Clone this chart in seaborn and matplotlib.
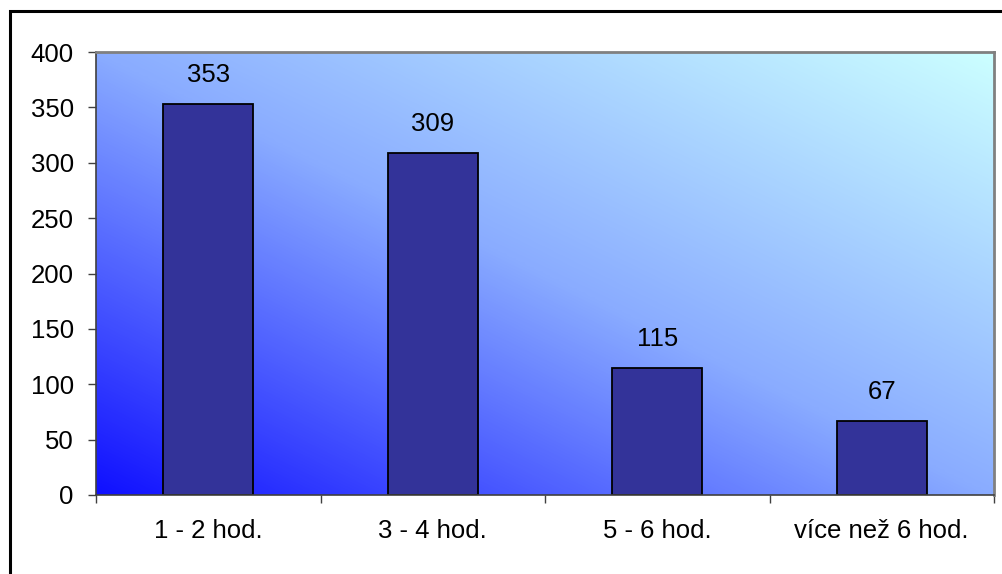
import numpy as np
import pandas as pd
import matplotlib
matplotlib.use("Agg")
import matplotlib.pyplot as plt
from matplotlib.colors import LinearSegmentedColormap
from matplotlib.patches import Rectangle
import seaborn as sns

categories = ["1 - 2 hod.", "3 - 4 hod.", "5 - 6 hod.", "více než 6 hod."]
values = [353, 309, 115, 67]
y_ticks = [0, 50, 100, 150, 200, 250, 300, 350, 400]

sns.set_style("white")
plt.rcParams["font.family"] = ["Liberation Sans", "DejaVu Sans"]
plt.rcParams["text.color"] = "black"
plt.rcParams["xtick.color"] = "black"
plt.rcParams["ytick.color"] = "black"

FS = 18.5
W, H = 1002, 574
fig = plt.figure(figsize=(W / 100, H / 100), dpi=100)
ax = fig.add_axes([96 / W, 1 - 495 / H, (994 - 96) / W, (495 - 52) / H])

# outer chart frame
fig.patches.append(Rectangle((9.5 / W, -0.01), 1.02, 1 - 10.5 / H + 0.01,
                             transform=fig.transFigure, fill=False,
                             edgecolor="black", linewidth=2.2, zorder=0))

# diagonal gradient plot area: deep blue bottom-left to pale cyan top-right
cmap = LinearSegmentedColormap.from_list(
    "area", [(0.0, "#1010ff"), (0.5, "#8aacff"), (1.0, "#ccffff")])
gx, gy = np.meshgrid(np.linspace(0, 1, 400), np.linspace(0, 1, 400))
grad = (gx + gy) / 2
ax.imshow(grad, cmap=cmap, origin="lower", extent=[0, 1, 0, 1],
          transform=ax.transAxes, aspect="auto", zorder=0, vmin=0, vmax=1)

df = pd.DataFrame({"cat": categories, "val": values})
sns.barplot(data=df, x="cat", y="val", color="#333399", width=0.4,
            edgecolor="black", linewidth=1.3, saturation=1, ax=ax, zorder=2)

for i, v in enumerate(values):
    ax.text(i, v + 26, str(v), ha="center", va="center", fontsize=FS,
            color="black", zorder=3)

ax.set_xlim(-0.5, len(categories) - 0.5)
ax.set_ylim(0, 400)
ax.set_yticks(y_ticks)
ax.set_yticklabels([str(t) for t in y_ticks], fontsize=FS)
ax.set_xticks(np.arange(len(categories)))
ax.set_xticklabels(categories, fontsize=FS)
ax.set_xlabel("")
ax.set_ylabel("")

# category boundary ticks on the x axis
ax.set_xticks(np.arange(len(categories) + 1) - 0.5, minor=True)
ax.tick_params(axis="x", which="major", length=0, pad=17)
ax.tick_params(axis="x", which="minor", length=6, width=1, color="#404040",
               direction="out", bottom=True)
ax.tick_params(axis="y", length=6, width=1, color="#404040",
               direction="out", left=True, pad=10)

for side in ["top", "right"]:
    ax.spines[side].set_visible(True)
    ax.spines[side].set_color("#808080")
    ax.spines[side].set_linewidth(2)
for side in ["left", "bottom"]:
    ax.spines[side].set_visible(True)
    ax.spines[side].set_color("#404040")
    ax.spines[side].set_linewidth(1.2)

fig.savefig("out.png", dpi=100)
